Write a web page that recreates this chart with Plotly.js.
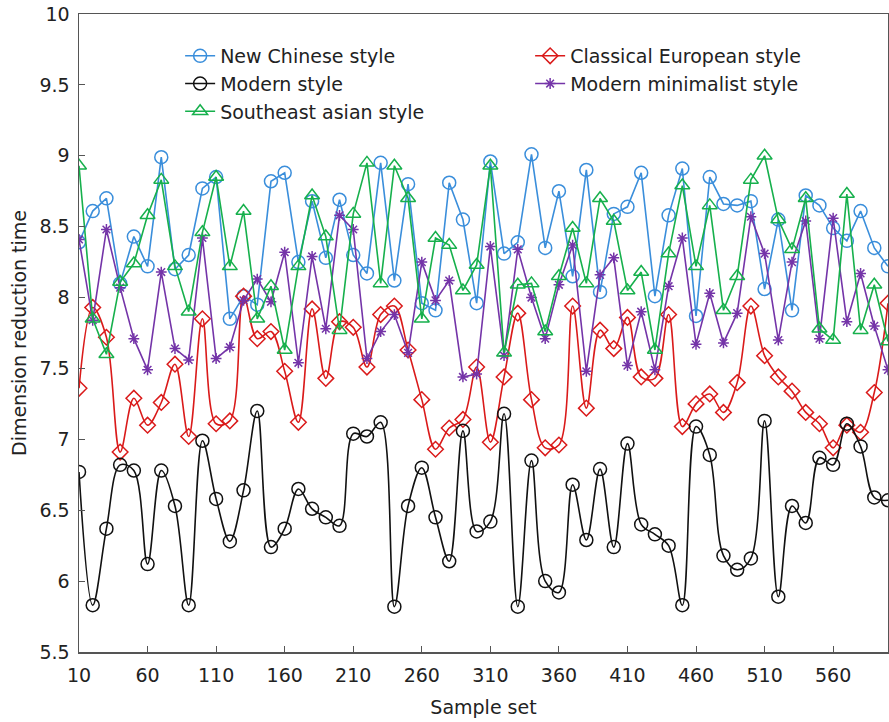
<!DOCTYPE html>
<html><head><meta charset="utf-8">
<script src="https://cdn.plot.ly/plotly-3.0.1.min.js"></script>
<style>html,body{margin:0;padding:0;background:#fff}#chart{width:889px;height:722px}</style>
</head><body><div id="chart"></div>
<script>
const sampleSet = [10,20,30,40,50,60,70,80,90,100,110,120,130,140,150,160,170,180,190,200,
  210,220,230,240,250,260,270,280,290,300,310,320,330,340,350,360,370,380,390,400,
  410,420,430,440,450,460,470,480,490,500,510,520,530,540,550,560,570,580,590,600];
const xTickVals = [10,60,110,160,210,260,310,360,410,460,510,560];
const yTickVals = [5.5,6,6.5,7,7.5,8,8.5,9,9.5,10];

const newChinese = [8.39,8.61,8.70,8.10,8.43,8.22,8.99,8.20,8.30,8.77,
  8.85,7.85,8.01,7.95,8.82,8.88,8.25,8.68,8.28,8.69,
  8.30,8.17,8.95,8.12,8.80,7.96,7.91,8.81,8.55,7.96,
  8.96,8.31,8.39,9.01,8.35,8.75,8.15,8.90,8.04,8.59,
  8.64,8.88,8.01,8.58,8.91,7.87,8.85,8.66,8.65,8.68,
  8.06,8.55,7.91,8.72,8.65,8.49,8.40,8.61,8.35,8.22];
const classicalEuropean = [7.36,7.93,7.72,6.91,7.29,7.10,7.26,7.53,7.02,7.85,
  7.11,7.13,8.01,7.71,7.76,7.48,7.12,7.92,7.43,7.83,
  7.79,7.51,7.88,7.94,7.63,7.28,6.93,7.08,7.14,7.51,
  6.98,7.44,7.89,7.28,6.94,6.96,7.94,7.22,7.77,7.64,
  7.86,7.44,7.43,7.88,7.09,7.25,7.32,7.19,7.40,7.94,
  7.59,7.44,7.34,7.19,7.11,6.94,7.10,7.05,7.33,7.96];
const modern = [6.77,5.83,6.37,6.82,6.78,6.12,6.78,6.53,5.83,6.99,
  6.58,6.28,6.64,7.20,6.24,6.37,6.65,6.51,6.45,6.39,
  7.04,7.02,7.12,5.82,6.53,6.80,6.45,6.14,7.06,6.35,
  6.42,7.18,5.82,6.85,6.00,5.92,6.68,6.29,6.79,6.24,
  6.97,6.40,6.33,6.25,5.83,7.09,6.89,6.18,6.08,6.16,
  7.13,5.89,6.53,6.41,6.87,6.82,7.11,6.95,6.59,6.57];
const modernMinimalist = [8.41,7.84,8.48,8.07,7.71,7.49,8.18,7.64,7.56,8.42,
  7.57,7.65,7.98,8.13,7.97,8.32,7.54,8.29,7.78,8.58,
  8.48,7.57,7.76,7.88,7.61,8.25,7.98,8.12,7.44,7.46,
  8.36,7.59,8.34,8.00,7.71,8.09,8.37,7.48,8.16,8.28,
  7.52,7.90,7.49,8.08,8.42,7.67,8.03,7.68,7.89,8.57,
  8.31,7.70,8.25,8.54,7.71,8.56,7.83,8.17,7.80,7.49];
const southeastAsian = [8.93,7.85,7.60,8.11,8.24,8.58,8.83,8.22,7.90,8.46,
  8.85,8.22,8.61,7.85,8.08,7.63,8.22,8.72,8.43,7.77,
  8.59,8.95,8.10,8.93,8.70,7.85,8.42,8.37,8.05,8.23,
  8.93,7.61,8.09,8.10,7.76,8.15,8.49,8.10,8.70,8.54,
  8.05,8.18,7.63,8.31,8.79,8.22,8.65,7.91,8.15,8.83,
  9.00,8.55,8.34,8.70,7.78,7.70,8.73,7.77,8.09,7.69];

function tr(name, y, color, symbol, size, shape) {
  return {
    type: 'scatter', mode: 'lines+markers', name: name, x: sampleSet, y: y,
    line: {color: color, width: 1.6, shape: shape, smoothing: 1},
    marker: {symbol: symbol, size: size, color: color, line: {color: color, width: 1.5}},
    cliponaxis: true
  };
}
const traces = [
  tr('New Chinese style', newChinese, '#3A8EDB', 'circle-open', 13, 'linear'),
  tr('Classical European style', classicalEuropean, '#DA1A1A', 'diamond-open', 12, 'spline'),
  tr('Modern style', modern, '#111111', 'circle-open', 13, 'spline'),
  tr('Modern minimalist style', modernMinimalist, '#7434A8', 'asterisk-open', 9, 'linear'),
  tr('Southeast asian style', southeastAsian, '#16B04C', 'triangle-up-open', 13, 'linear')
];
const fontFam = 'DejaVu Sans, Verdana, sans-serif';
const layout = {
  width: 889, height: 722,
  margin: {l: 79, r: 1, t: 14, b: 70},
  paper_bgcolor: '#fff', plot_bgcolor: '#fff',
  font: {family: fontFam, size: 19, color: '#222'},
  showlegend: true,
  legend: {
    orientation: 'h', x: 0.125, xanchor: 'left', y: 0.964, yanchor: 'top',
    entrywidth: 305, entrywidthmode: 'pixels',
    bgcolor: 'rgba(0,0,0,0)', borderwidth: 0,
    font: {family: fontFam, size: 19, color: '#222'}
  },
  xaxis: {
    range: [10, 600], tickmode: 'array', tickvals: xTickVals, ticktext: xTickVals.map(String),
    showgrid: false, zeroline: false, showline: true, linecolor: '#555', linewidth: 1.5,
    mirror: true, ticks: 'inside', ticklen: 6, tickcolor: '#555', tickwidth: 1,
    ticklabelstandoff: 6,
    tickfont: {family: fontFam, size: 19, color: '#222'},
    title: {text: 'Sample set', font: {family: fontFam, size: 19, color: '#222'}, standoff: 15}
  },
  yaxis: {
    range: [5.5, 10], tickmode: 'array', tickvals: yTickVals, ticktext: yTickVals.map(String),
    showgrid: false, zeroline: false, showline: true, linecolor: '#555', linewidth: 1.5,
    mirror: true, ticks: 'inside', ticklen: 6, tickcolor: '#555', tickwidth: 1,
    ticklabelstandoff: 4,
    tickfont: {family: fontFam, size: 19, color: '#222'},
    title: {text: 'Dimension reduction time', font: {family: fontFam, size: 19, color: '#222'}, standoff: 8}
  }
};
Plotly.newPlot('chart', traces, layout, {displayModeBar: false, staticPlot: true});
</script>
</body></html>
